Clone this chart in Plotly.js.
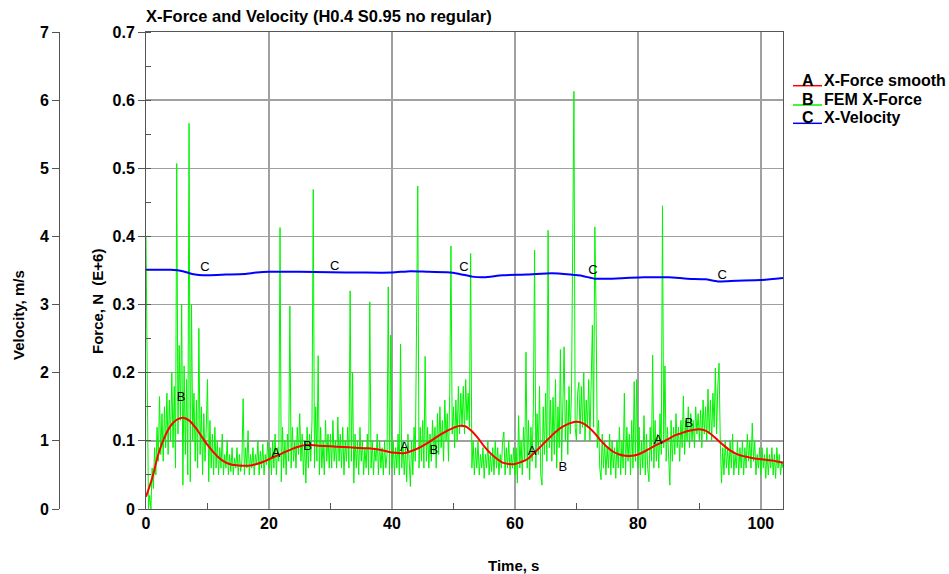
<!DOCTYPE html>
<html>
<head>
<meta charset="utf-8">
<script src="https://cdn.plot.ly/plotly-3.0.1.min.js"></script>
<style>html,body{margin:0;padding:0;background:#fff;}#chart{width:949px;height:574px;}</style>
</head>
<body>
<div id="chart"></div>
<script>
// ---------- DATA ----------
const chartTitle = 'X-Force and Velocity (H0.4 S0.95 no regular)';
const FEM_STEP = 0.2; // sample spacing of FEM force, s (starts at 0 s)

// FEM X-Force (E+6 N), one value every 0.2 s
const fem00 = [0.40,0.12,0.00,0.02,0.00,0.06,0.03,0.09,0.05,0.12,
  0.07,0.165,0.08,0.14,0.07,0.15,0.09,0.17,0.08,0.16,
  0.10,0.20,0.09,0.18,0.06,0.507,0.11,0.24,0.13,0.30,
  0.035,0.21,0.08,0.19,0.05,0.566,0.04,0.30,0.10,0.17,
  0.07,0.16,0.06,0.265,0.08,0.15,0.05,0.14,0.07,0.12];
const fem10 = [0.19,0.04,0.13,0.06,0.11,0.05,0.12,0.06,0.10,0.05,
  0.09,0.06,0.11,0.05,0.08,0.06,0.10,0.05,0.08,0.055,
  0.09,0.05,0.075,0.06,0.09,0.05,0.08,0.055,0.07,0.162,
  0.05,0.09,0.06,0.115,0.05,0.08,0.06,0.09,0.05,0.08,
  0.065,0.10,0.05,0.085,0.06,0.095,0.05,0.08,0.065,0.10];
const fem20 = [0.06,0.09,0.05,0.10,0.06,0.11,0.05,0.09,0.07,0.413,
  0.04,0.12,0.06,0.10,0.05,0.11,0.07,0.298,0.06,0.12,
  0.07,0.10,0.06,0.12,0.08,0.14,0.07,0.11,0.05,0.10,
  0.038,0.12,0.06,0.11,0.07,0.13,0.469,0.06,0.15,0.07,
  0.225,0.05,0.12,0.06,0.10,0.05,0.13,0.07,0.11,0.06];
const fem30 = [0.11,0.06,0.13,0.07,0.10,0.06,0.135,0.07,0.11,0.06,
  0.12,0.05,0.10,0.07,0.12,0.06,0.32,0.07,0.20,0.038,
  0.11,0.06,0.10,0.05,0.12,0.07,0.10,0.05,0.09,0.06,
  0.11,0.05,0.304,0.06,0.10,0.05,0.09,0.07,0.11,0.05,
  0.10,0.06,0.09,0.05,0.10,0.06,0.08,0.326,0.05,0.255];
const fem40 = [0.06,0.10,0.05,0.09,0.06,0.11,0.05,0.242,0.06,0.10,
  0.05,0.09,0.04,0.11,0.06,0.033,0.10,0.05,0.12,0.07,
  0.271,0.474,0.06,0.12,0.07,0.13,0.06,0.224,0.07,0.12,
  0.06,0.11,0.07,0.13,0.08,0.12,0.06,0.14,0.08,0.15,
  0.09,0.13,0.07,0.16,0.10,0.14,0.07,0.17,0.386,0.11];
const fem50 = [0.15,0.09,0.16,0.10,0.18,0.11,0.17,0.12,0.18,0.11,
  0.19,0.13,0.17,0.12,0.375,0.06,0.10,0.05,0.09,0.06,
  0.10,0.05,0.08,0.06,0.09,0.045,0.08,0.06,0.10,0.05,
  0.08,0.055,0.09,0.05,0.10,0.06,0.09,0.05,0.08,0.06,
  0.10,0.113,0.05,0.09,0.06,0.10,0.05,0.08,0.06,0.09];
const fem60 = [0.05,0.09,0.038,0.137,0.06,0.10,0.05,0.12,0.07,0.23,
  0.06,0.13,0.043,0.12,0.07,0.15,0.38,0.06,0.14,0.08,
  0.18,0.05,0.035,0.15,0.08,0.17,0.07,0.409,0.09,0.16,
  0.07,0.164,0.08,0.19,0.06,0.15,0.09,0.234,0.07,0.17,
  0.238,0.10,0.16,0.08,0.18,0.11,0.17,0.391,0.613,0.12];
const fem70 = [0.10,0.17,0.186,0.11,0.18,0.12,0.20,0.10,0.16,0.12,
  0.19,0.10,0.17,0.27,0.12,0.414,0.29,0.09,0.13,0.06,
  0.043,0.11,0.06,0.10,0.05,0.09,0.06,0.11,0.05,0.10,
  0.06,0.09,0.045,0.10,0.06,0.12,0.05,0.10,0.06,0.17,
  0.05,0.12,0.07,0.11,0.05,0.13,0.06,0.187,0.07,0.19];
const fem80 = [0.06,0.12,0.05,0.10,0.06,0.137,0.05,0.11,0.06,0.04,
  0.12,0.07,0.226,0.06,0.13,0.07,0.11,0.06,0.14,0.08,
  0.445,0.09,0.21,0.07,0.12,0.06,0.035,0.13,0.07,0.12,
  0.08,0.14,0.09,0.12,0.07,0.13,0.09,0.166,0.08,0.13,
  0.10,0.15,0.09,0.14,0.10,0.13,0.09,0.15,0.11,0.14];
const fem90 = [0.10,0.145,0.09,0.16,0.11,0.15,0.10,0.176,0.11,0.16,
  0.10,0.17,0.12,0.207,0.11,0.18,0.214,0.10,0.038,0.09,
  0.05,0.10,0.06,0.09,0.05,0.10,0.06,0.11,0.05,0.08,
  0.06,0.10,0.05,0.09,0.06,0.10,0.05,0.09,0.06,0.11,
  0.07,0.10,0.06,0.126,0.07,0.10,0.05,0.08,0.06,0.09];
const fem100 = [0.05,0.09,0.06,0.08,0.045,0.09,0.05,0.08,0.06,0.09,
  0.05,0.08,0.045,0.09,0.06,0.08,0.05,0.07,0.06];

// X-Force smooth (E+6 N)
const smoothTime = [0,1,2,3,4,5,6,7,8,9,10,11,12,13,14,15,16,17,18,19,20,22,24,26,28,30,32,34,36,38,40,42,44,46,48,50,51,52,53,54,55,56,57,58,59,60,61,62,63,64,65,66,67,68,69,70,71,72,73,74,75,76,77,78,79,80,81,82,83,84,85,86,87,88,89,90,91,92,93,94,95,96,97,98,99,100,101,102,103,103.6];
const smoothForce = [0.018,0.045,0.08,0.105,0.122,0.131,0.134,0.13,0.12,0.107,0.094,0.083,0.074,0.068,0.065,0.064,0.0635,0.064,0.066,0.069,0.073,0.081,0.089,0.094,0.093,0.092,0.091,0.09,0.089,0.087,0.083,0.082,0.088,0.098,0.11,0.119,0.122,0.121,0.114,0.104,0.092,0.082,0.074,0.068,0.066,0.066,0.069,0.073,0.081,0.09,0.099,0.108,0.116,0.122,0.126,0.128,0.126,0.12,0.111,0.1,0.091,0.084,0.08,0.078,0.078,0.08,0.084,0.089,0.094,0.098,0.103,0.108,0.111,0.114,0.116,0.117,0.115,0.109,0.101,0.093,0.086,0.081,0.078,0.076,0.074,0.073,0.072,0.071,0.069,0.068];

// X-Velocity (m/s)
const velTime = [0,4,6,7.5,10,13,16,18,20,25,30,35,40,43,46,49,51,53,55,58,62,66,69,71,73,75,78,81,85,88,91,93,96,100,103.6];
const velocity = [3.51,3.51,3.49,3.45,3.43,3.44,3.45,3.47,3.48,3.48,3.475,3.47,3.47,3.49,3.48,3.475,3.45,3.41,3.40,3.43,3.44,3.46,3.44,3.42,3.38,3.38,3.39,3.40,3.40,3.38,3.37,3.34,3.35,3.36,3.39];

// curve letter labels
const labelATime = [21.1,42.0,62.8,83.3,104.1];
const labelAForce = [0.081,0.090,0.084,0.100,0.075];
const labelBTime = [5.7,26.3,46.8,67.8,88.3];
const labelBForce = [0.163,0.091,0.085,0.060,0.125];
const labelCTime = [9.6,30.7,51.7,72.7,93.7];
const labelCVel = [3.54,3.55,3.54,3.49,3.42];

const seriesNames = ['X-Force smooth','FEM X-Force','X-Velocity'];
const seriesLetters = ['A','B','C'];

// ---------- DRAWING ----------
const femForce = [].concat(fem00,fem10,fem20,fem30,fem40,fem50,fem60,fem70,fem80,fem90,fem100);
const RED = '#ff0000', GREEN = '#00f400', BLUE = '#0000ff';
const FONT = 'Liberation Sans, Arial, Helvetica, sans-serif';

// plot-box pixel frame -> paper coordinates
const PL = 59, PR = 783, PT = 32, PB = 509;
const px = x => (x - PL) / (PR - PL);
const py = y => (PB - y) / (PB - PT);

const traces = [
  {x0: 0, dx: FEM_STEP, y: femForce, type: 'scatter', mode: 'lines', name: seriesNames[1],
   line: {color: GREEN, width: 1}, xaxis: 'x', yaxis: 'y', hoverinfo: 'skip'},
  {x: smoothTime, y: smoothForce, type: 'scatter', mode: 'lines', name: seriesNames[0],
   line: {color: RED, width: 2, shape: 'spline', smoothing: 1}, xaxis: 'x', yaxis: 'y'},
  {x: velTime, y: velocity, type: 'scatter', mode: 'lines', name: seriesNames[2],
   line: {color: BLUE, width: 2, shape: 'spline', smoothing: 0.6}, xaxis: 'x', yaxis: 'y2'},
  {x: labelATime, y: labelAForce, type: 'scatter', mode: 'text', text: labelATime.map(() => 'A'),
   textfont: {family: FONT, size: 13, color: '#000'}, cliponaxis: false, xaxis: 'x', yaxis: 'y', hoverinfo: 'skip'},
  {x: labelBTime, y: labelBForce, type: 'scatter', mode: 'text', text: labelBTime.map(() => 'B'),
   textfont: {family: FONT, size: 13, color: '#000'}, cliponaxis: false, xaxis: 'x', yaxis: 'y', hoverinfo: 'skip'},
  {x: labelCTime, y: labelCVel, type: 'scatter', mode: 'text', text: labelCTime.map(() => 'C'),
   textfont: {family: FONT, size: 13, color: '#000'}, cliponaxis: false, xaxis: 'x', yaxis: 'y2', hoverinfo: 'skip'}
];

const tickFont = {family: FONT, size: 16, color: '#000', weight: 'bold'};
const GRID = '#a0a0a0', AXIS = '#555555';

const legendColors = [RED, GREEN, BLUE];
const legendRowsY = [85.7, 105, 123.3];
const shapes = [], annotations = [];
legendRowsY.forEach((ly, i) => {
  shapes.push({type: 'line', xref: 'paper', yref: 'paper', x0: px(793), x1: px(822), y0: py(ly), y1: py(ly),
    line: {color: legendColors[i], width: 1.5}});
  annotations.push({xref: 'paper', yref: 'paper', x: px(808), y: py(ly - 5.5), text: '<b>' + seriesLetters[i] + '</b>',
    showarrow: false, xanchor: 'center', yanchor: 'middle', font: {family: FONT, size: 16, color: '#000'}});
  annotations.push({xref: 'paper', yref: 'paper', x: px(822), y: py(ly - 5.5), text: '<b>' + seriesNames[i] + '</b>',
    showarrow: false, xanchor: 'left', yanchor: 'middle', font: {family: FONT, size: 16, color: '#000'}});
});
annotations.push({xref: 'paper', yref: 'paper', x: px(513), y: py(565), text: '<b>Time, s</b>',
  showarrow: false, xanchor: 'center', yanchor: 'middle', font: {family: FONT, size: 15, color: '#000'}});
annotations.push({xref: 'paper', yref: 'paper', x: px(18), y: py(315), text: '<b>Velocity, m/s</b>', textangle: -90,
  showarrow: false, xanchor: 'center', yanchor: 'middle', font: {family: FONT, size: 15, color: '#000'}});
annotations.push({xref: 'paper', yref: 'paper', x: px(97), y: py(302), text: '<b>Force, N  (E+6)</b>', textangle: -90,
  showarrow: false, xanchor: 'center', yanchor: 'middle', font: {family: FONT, size: 15, color: '#000'}});

const layout = {
  width: 949, height: 574,
  paper_bgcolor: '#ffffff', plot_bgcolor: '#ffffff',
  margin: {l: PL, r: 949 - PR, t: PT, b: 574 - PB, pad: 0},
  showlegend: false,
  font: {family: FONT, color: '#000'},
  title: {text: '<b>' + chartTitle + '</b>', xref: 'container', yref: 'container',
    x: 146 / 949, xanchor: 'left', y: 1 - 16.5 / 574, yanchor: 'middle',
    font: {family: FONT, size: 16.5, color: '#000'}},
  xaxis: {
    domain: [px(146), 1], range: [0, 103.6], tick0: 0, dtick: 20,
    showgrid: true, gridcolor: GRID, gridwidth: 1.5, zeroline: false,
    showline: true, linecolor: AXIS, linewidth: 1, mirror: true,
    ticks: '', tickfont: tickFont,
    minor: {tick0: 0, dtick: 10, ticks: 'inside', ticklen: 6, tickcolor: AXIS, tickwidth: 1, showgrid: false}
  },
  yaxis: {
    anchor: 'x', range: [0, 0.7], tick0: 0, dtick: 0.1,
    showgrid: true, gridcolor: GRID, gridwidth: 1.5, zeroline: false,
    showline: true, linecolor: AXIS, linewidth: 1, mirror: true,
    ticks: 'outside', ticklen: 7, tickcolor: AXIS, tickfont: tickFont,
    minor: {tick0: 0, dtick: 0.05, ticks: 'inside', ticklen: 5, tickcolor: AXIS, tickwidth: 1, showgrid: false}
  },
  yaxis2: {
    overlaying: 'y', anchor: 'free', position: 0, side: 'left',
    range: [0, 7], tick0: 0, dtick: 1,
    showgrid: false, zeroline: false,
    showline: true, linecolor: AXIS, linewidth: 1,
    ticks: 'outside', ticklen: 7, tickcolor: AXIS, tickfont: tickFont
  },
  shapes: shapes,
  annotations: annotations
};

Plotly.newPlot('chart', traces, layout, {staticPlot: true, displayModeBar: false});
</script>
</body>
</html>
